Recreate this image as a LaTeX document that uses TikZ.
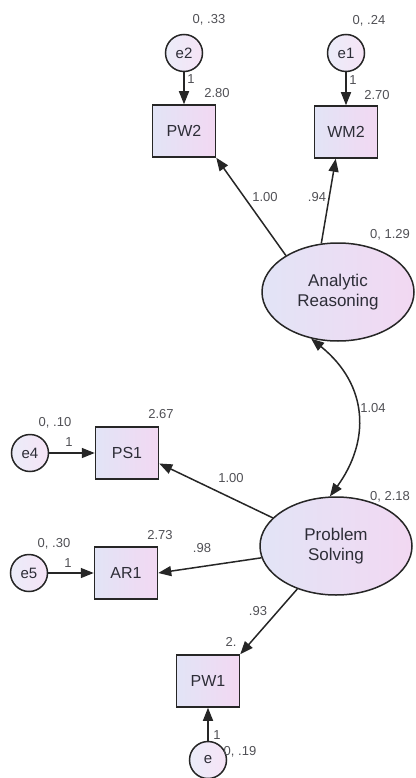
\documentclass[tikz,border=0pt]{standalone}
\usepackage{fontspec}
\setmainfont{Liberation Sans}
\usepackage{tikz}
\usetikzlibrary{arrows.meta,shapes.geometric}
\definecolor{semblue}{RGB}{226,228,246}
\definecolor{sempink}{RGB}{242,216,242}
\definecolor{semtext}{RGB}{45,45,55}
\definecolor{semnum}{RGB}{80,80,85}

\begin{document}
\begin{tikzpicture}[x=1pt, y=-1pt, >={Triangle[length=13pt,width=10pt]},
  obs/.style={draw=black!85, line width=1.5pt, left color=semblue, right color=sempink,
    minimum width=63pt, minimum height=52pt, inner sep=0pt,
    font=\fontsize{16}{18}\selectfont, text=semtext},
  lat/.style={ellipse, draw=black!85, line width=1.5pt, left color=semblue, right color=sempink,
    minimum width=152pt, minimum height=98pt, inner sep=0pt, align=center,
    font=\fontsize{17}{20}\selectfont, text=semtext},
  err/.style={circle, draw=black!85, line width=1.5pt, left color=semblue!70!white,
    right color=sempink!70!white, minimum size=37pt, inner sep=0pt,
    font=\fontsize{15}{17}\selectfont, text=semtext},
  est/.style={font=\fontsize{13}{15}\selectfont, text=semnum, inner sep=1pt},
  reg/.style={->, line width=1.5pt, draw=black!85}]
  \useasboundingbox (0,0) rectangle (415,778);
  % latent factors
  \node[lat] (ar) at (338,292) {Analytic\\Reasoning};
  \node[lat] (ps) at (336,546) {Problem\\Solving};
  % observed indicators
  \node[obs] (pw2) at (184,131) {PW2};
  \node[obs] (wm2) at (346,132) {WM2};
  \node[obs] (ps1) at (127,453) {PS1};
  \node[obs] (ar1) at (126,573) {AR1};
  \node[obs] (pw1) at (208,681) {PW1};
  % error terms
  \node[err] (e2) at (184,53) {e2};
  \node[err] (e1) at (346,53) {e1};
  \node[err] (e4) at (30,453) {e4};
  \node[err] (e5) at (29,573) {e5};
  \node[err] (e) at (208,760) {e};
  % estimates: variances, intercepts, loadings
  \node[est] (v-e2) at (209,20) {0, .33};
  \node[est] (v-e1) at (369,21) {0, .24};
  \node[est] (i-pw2) at (217,93) {2.80};
  \node[est] (i-wm2) at (377,95) {2.70};
  \node[est] (f-e2) at (191,79) {1};
  \node[est] (f-e1) at (353,80) {1};
  \node[est] (l-pw2) at (265,197) {1.00};
  \node[est] (l-wm2) at (317,197) {.94};
  \node[est] (v-ar) at (390,235) {0, 1.29};
  \node[est] (c-arps) at (373,408) {1.04};
  \node[est] (v-ps) at (390,497) {0, 2.18};
  \node[est] (v-e4) at (55,423) {0, .10};
  \node[est] (f-e4) at (69,442) {1};
  \node[est] (i-ps1) at (161,414) {2.67};
  \node[est] (l-ps1) at (231,478) {1.00};
  \node[est] (v-e5) at (54,544) {0, .30};
  \node[est] (f-e5) at (68,563) {1};
  \node[est] (i-ar1) at (160,535) {2.73};
  \node[est] (l-ar1) at (202,548) {.98};
  \node[est] (l-pw1) at (258,611) {.93};
  \node[est] (i-pw1) at (231,642) {2.};
  \node[est] (f-e) at (217,735) {1};
  \node[est] (v-e) at (240,752) {0, .19};
  % error paths
  \draw[reg] (e2) -- (pw2);
  \draw[reg] (e1) -- (wm2);
  \draw[reg] (e4) -- (ps1);
  \draw[reg] (e5) -- (ar1);
  \draw[reg] (e) -- (pw1);
  % factor loadings
  \draw[reg] (ar.145) -- (pw2.south east);
  \draw[reg] (ar.109) -- (wm2.249);
  \draw[reg] (ps.156) -- (ps1.342);
  \draw[reg] (ps.189) -- (ar1.east);
  \draw[reg] (ps.228) -- (pw1.north east);
  % covariance
  \draw[reg, <->] (ar.240) .. controls +(58,47) and +(40,-55) .. (ps.97);
\end{tikzpicture}
\end{document}
